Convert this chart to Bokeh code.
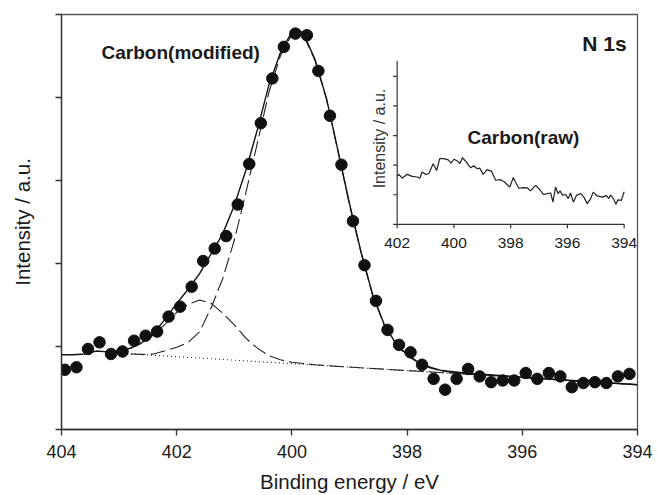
import math
from bokeh.plotting import figure
from bokeh.models import Range1d, FixedTicker, CustomJSTickFormatter
from bokeh.embed import file_html
from bokeh.resources import INLINE
from bokeh.core.properties import value

# ---------------- data: main spectrum (modified carbon, N 1s) ----------------
energy = [403.94, 403.74, 403.54, 403.34, 403.14, 402.94, 402.74, 402.54, 402.34, 402.14,
          401.94, 401.74, 401.54, 401.34, 401.14, 400.94, 400.74, 400.54, 400.34, 400.14,
          399.94, 399.74, 399.54, 399.34, 399.14, 398.94, 398.74, 398.54, 398.34, 398.14,
          397.94, 397.74, 397.54, 397.34, 397.14, 396.94, 396.74, 396.54, 396.34, 396.14,
          395.94, 395.74, 395.54, 395.34, 395.14, 394.94, 394.74, 394.54, 394.34, 394.14]
intensity = [0.72, 0.75, 0.97, 1.05, 0.91, 0.94, 1.07, 1.13, 1.18, 1.36,
             1.48, 1.72, 2.03, 2.18, 2.33, 2.71, 3.20, 3.69, 4.23, 4.61,
             4.77, 4.75, 4.32, 3.78, 3.19, 2.51, 1.98, 1.55, 1.20, 1.02,
             0.93, 0.78, 0.61, 0.48, 0.61, 0.73, 0.64, 0.57, 0.59, 0.59,
             0.68, 0.61, 0.68, 0.64, 0.51, 0.56, 0.57, 0.56, 0.64, 0.67]

fit_energy = [404.0, 403.8, 403.6, 403.4, 403.2, 403.0, 402.8, 402.6, 402.4, 402.2,
              402.0, 401.8, 401.6, 401.4, 401.2, 401.0, 400.8, 400.6, 400.4, 400.2,
              400.0, 399.9, 399.8, 399.6, 399.4, 399.2, 399.0, 398.8, 398.6, 398.4,
              398.2, 398.0, 397.8, 397.6, 397.4, 397.0, 396.0, 395.0, 394.0]
envelope = [0.90, 0.90, 0.91, 0.945, 0.935, 0.95, 0.98, 1.05, 1.16, 1.33,
            1.52, 1.69, 1.88, 2.12, 2.36, 2.70, 3.12, 3.61, 4.15, 4.54,
            4.79, 4.82, 4.77, 4.46, 3.99, 3.36, 2.72, 2.14, 1.63, 1.27,
            1.04, 0.90, 0.81, 0.75, 0.71, 0.68, 0.63, 0.585, 0.54]

main_energy = [402.8, 402.6, 402.4, 402.2, 402.0, 401.8, 401.6, 401.4, 401.2, 401.0,
               400.8, 400.6, 400.4, 400.2, 400.0, 399.9, 399.8, 399.6, 399.4, 399.2,
               399.0, 398.8, 398.6, 398.4, 398.2, 398.0, 397.8, 397.6, 397.4, 397.0,
               396.0, 395.0, 394.0]
main_peak = [0.91, 0.905, 0.91, 0.95, 0.99, 1.05, 1.18, 1.47, 1.82, 2.28,
             2.85, 3.45, 4.06, 4.50, 4.76, 4.79, 4.75, 4.45, 3.98, 3.35,
             2.71, 2.13, 1.62, 1.26, 1.03, 0.89, 0.80, 0.74, 0.705, 0.67,
             0.63, 0.58, 0.54]

small_energy = [403.2, 403.0, 402.8, 402.6, 402.4, 402.2, 402.0, 401.8, 401.6, 401.4,
                401.2, 401.0, 400.8, 400.6, 400.4, 400.2, 400.0, 399.6, 399.2, 398.0,
                397.0, 396.0, 395.0, 394.0]
small_peak = [0.93, 0.95, 0.98, 1.04, 1.14, 1.27, 1.41, 1.51, 1.56, 1.52,
              1.40, 1.26, 1.10, 0.98, 0.89, 0.84, 0.81, 0.78, 0.76, 0.71,
              0.67, 0.63, 0.58, 0.54]

baseline_energy = [403.0, 394.0]
baseline = [0.92, 0.54]

main_xticks = [404, 402, 400, 398, 396, 394]
main_xtick_labels = ["404", "402", "400", "398", "396", "394"]
main_yticks = [0, 1, 2, 3, 4, 5]

# ---------------- data: inset (raw carbon) ----------------
raw_energy = [402.00, 401.94, 401.82, 401.65, 401.47, 401.29, 401.20, 401.12, 401.00, 400.89,
              400.73, 400.61, 400.50, 400.36, 400.20, 400.10, 400.00, 399.88, 399.79, 399.70,
              399.56, 399.41, 399.30, 399.18, 399.09, 398.97, 398.83, 398.67, 398.53, 398.38,
              398.24, 398.03, 397.91, 397.83, 397.71, 397.56, 397.41, 397.30, 397.12, 396.97,
              396.85, 396.71, 396.59, 396.51, 396.42, 396.33, 396.26, 396.17, 396.06, 395.97,
              395.89, 395.79, 395.68, 395.53, 395.42, 395.30, 395.18, 395.09, 394.95, 394.77,
              394.62, 394.54, 394.48, 394.38, 394.29, 394.22, 394.10, 394.00]
raw_intensity = [1.62, 1.69, 1.56, 1.69, 1.62, 1.60, 1.56, 1.77, 1.69, 1.71,
                 2.05, 1.82, 2.22, 2.22, 2.18, 2.07, 2.20, 2.14, 2.05, 2.25,
                 2.10, 1.91, 1.98, 1.88, 1.90, 1.69, 1.85, 1.79, 1.49, 1.51,
                 1.45, 1.26, 1.58, 1.43, 1.22, 1.24, 1.23, 1.13, 1.32, 1.17,
                 1.01, 1.04, 1.06, 0.75, 1.26, 1.04, 1.13, 0.99, 1.01, 0.87,
                 1.06, 0.75, 0.98, 1.04, 0.92, 0.70, 0.87, 1.09, 0.96, 0.92,
                 0.97, 0.87, 0.99, 0.87, 0.68, 0.83, 0.81, 1.10]
inset_xticks = [402, 400, 398, 396, 394]
inset_xtick_labels = ["402", "400", "398", "396", "394"]
inset_yticks = [0, 1, 2, 3, 4, 5]
inset_ymax = 5.52

FONT = "Liberation Sans"
TXT = "#1a1a1a"

p = figure(width=657, height=495, output_backend="svg", toolbar_location=None,
           x_range=Range1d(404, 394), y_range=Range1d(0, 5),
           min_border_left=61, min_border_right=20, min_border_top=14, min_border_bottom=66)
p.xgrid.visible = False
p.ygrid.visible = False
p.outline_line_color = "#555555"
p.outline_line_width = 1.3
p.background_fill_color = "white"
p.border_fill_color = "white"

# main axes
p.xaxis.ticker = FixedTicker(ticks=main_xticks)
p.xaxis.major_label_overrides = {t: l for t, l in zip(main_xticks, main_xtick_labels)}
p.yaxis.ticker = FixedTicker(ticks=main_yticks)
for ax in (p.xaxis[0], p.yaxis[0]):
    ax.axis_line_color = "#333333"
    ax.axis_line_width = 1.3
    ax.major_tick_line_color = "#333333"
    ax.major_tick_line_width = 1.3
    ax.major_tick_out = 6
    ax.major_tick_in = 0
    ax.minor_tick_out = 0
    ax.minor_tick_in = 0
    ax.axis_label_text_font = FONT
    ax.axis_label_text_font_style = "normal"
    ax.axis_label_text_font_size = "20.5px"
    ax.axis_label_text_color = TXT
    ax.major_label_text_font = FONT
    ax.major_label_text_color = TXT
p.xaxis.major_label_text_font_size = "18px"
p.xaxis.major_label_standoff = 9
p.xaxis.axis_label = "Binding energy / eV"
p.xaxis.axis_label_standoff = 9
p.yaxis.formatter = CustomJSTickFormatter(code="return ''")
p.yaxis.major_label_standoff = 0
p.yaxis.axis_label = "Intensity / a.u."
p.yaxis.axis_label_standoff = 22

# fitted components
p.line(baseline_energy, baseline, line_color="#222222", line_width=1.1, line_dash="1 3")
p.line(small_energy, small_peak, line_color="#222222", line_width=1.1, line_dash="15 5")
p.line(main_energy, main_peak, line_color="#222222", line_width=1.1, line_dash="15 5")
p.line(fit_energy, envelope, line_color="#111111", line_width=1.4)
p.scatter(energy, intensity, marker="circle", size=11.5, fill_color="#111111", line_color="#111111")

p.text(x=[401.93], y=[4.54], text=["Carbon(modified)"], text_font=value(FONT),
       text_font_style="bold", text_font_size="19px", text_color=TXT,
       text_align="center", text_baseline="alphabetic")
p.text(x=[394.19], y=[4.65], text=["N 1s"], text_font=value(FONT),
       text_font_style="bold", text_font_size="21px", text_color=TXT,
       text_align="right", text_baseline="alphabetic")

# ---------------- inset drawn on extra ranges ----------------
p.extra_x_ranges = {"ix": Range1d(413.83, 393.53)}
p.extra_y_ranges = {"iy": Range1d(-6.93, 7.09)}
kw = dict(x_range_name="ix", y_range_name="iy")

p.segment(x0=[max(inset_xticks), max(inset_xticks)], y0=[min(inset_yticks), min(inset_yticks)],
          x1=[min(inset_xticks), max(inset_xticks)], y1=[min(inset_yticks), inset_ymax],
          line_color="#333333", line_width=1.2, **kw)
p.ray(x=inset_xticks, y=[min(inset_yticks)] * len(inset_xticks), length=4, length_units="screen",
      angle=-math.pi / 2, line_color="#333333", line_width=1.2, **kw)
p.ray(x=[max(inset_xticks)] * len(inset_yticks), y=inset_yticks, length=4, length_units="screen",
      angle=math.pi, line_color="#333333", line_width=1.2, **kw)
p.text(x=inset_xticks, y=[min(inset_yticks)] * len(inset_xticks), text=inset_xtick_labels,
       text_font=value(FONT), text_font_size="15.5px", text_color=TXT,
       text_align="center", text_baseline="top", y_offset=14, **kw)
p.text(x=[402.61], y=[2.9], text=["Intensity / a.u."], angle=math.pi / 2,
       text_font=value(FONT), text_font_size="16px", text_color="#333333",
       text_align="center", text_baseline="alphabetic", **kw)
p.line(raw_energy, raw_intensity, line_color="#222222", line_width=1.2, **kw)
p.text(x=[397.55], y=[2.94], text=["Carbon(raw)"], text_font=value(FONT),
       text_font_style="bold", text_font_size="19px", text_color=TXT,
       text_align="center", text_baseline="alphabetic", **kw)

open("out.html", "w").write(file_html(p, INLINE))
